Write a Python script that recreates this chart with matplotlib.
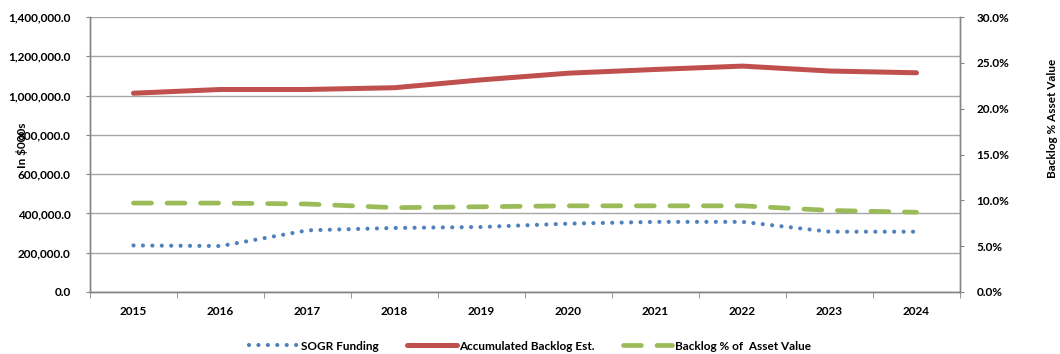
import matplotlib
matplotlib.use("Agg")
import matplotlib.pyplot as plt
from matplotlib.ticker import FuncFormatter, FixedLocator

years = ["2015", "2016", "2017", "2018", "2019", "2020", "2021", "2022", "2023", "2024"]
sogr_funding = [237000, 234000, 314000, 326000, 331000, 348000, 357000, 357000, 307000, 307000]
accumulated_backlog = [1012000, 1031000, 1031000, 1040000, 1080000, 1114000, 1133000, 1150000, 1125000, 1116000]
backlog_pct = [9.7, 9.7, 9.6, 9.2, 9.3, 9.4, 9.4, 9.4, 8.9, 8.7]

BLUE = "#4F81BD"
RED = "#C0504D"
GREEN = "#9BBB59"
GRID = "#A6A6A6"
AXIS = "#868686"

plt.rcParams["font.family"] = ["Lato", "DejaVu Sans"]
plt.rcParams["font.weight"] = "bold"

fig = plt.figure(figsize=(10.6, 3.54), dpi=100)
ax = fig.add_axes([90 / 1060, 1 - 292 / 354, 870 / 1060, 275 / 354])
ax2 = ax.twinx()

x = list(range(len(years)))

l1, = ax.plot(x, sogr_funding, color=BLUE, lw=3.0, linestyle=(0, (0.01, 2.25)),
              dash_capstyle="round", solid_capstyle="round", label="SOGR Funding", zorder=3)
l2, = ax.plot(x, accumulated_backlog, color=RED, lw=3.6, solid_capstyle="round",
              label="Accumulated Backlog Est.", zorder=3)
l3, = ax2.plot(x, backlog_pct, color=GREEN, lw=3.4, linestyle=(0, (3.8, 3.3)),
               dash_capstyle="round", label="Backlog % of  Asset Value", zorder=3)

ax.set_xlim(-0.5, len(years) - 0.5)
ax.set_ylim(0, 1400000)
ax2.set_ylim(0, 30)

ax.set_yticks(range(0, 1400001, 200000))
ax.yaxis.set_major_formatter(FuncFormatter(lambda v, p: f"{v:,.1f}"))
ax2.set_yticks([0, 5, 10, 15, 20, 25, 30])
ax2.yaxis.set_major_formatter(FuncFormatter(lambda v, p: f"{v:.1f}%"))

ax.set_xticks(x)
ax.set_xticklabels(years)
ax.xaxis.set_minor_locator(FixedLocator([i - 0.5 for i in range(len(years) + 1)]))
ax.tick_params(axis="x", which="major", length=0, pad=10, labelsize=8.5)
ax.tick_params(axis="x", which="minor", length=4, color=AXIS, direction="out")
ax.tick_params(axis="y", length=3, color=AXIS, pad=11, labelsize=8.5)
ax2.tick_params(axis="y", length=3, color=AXIS, pad=9, labelsize=8.5)

ax.grid(axis="y", color=GRID, lw=1.0)
ax.set_axisbelow(True)

for a in (ax, ax2):
    a.spines["top"].set_visible(False)
    for side in ("left", "right", "bottom"):
        a.spines[side].set_color(AXIS)
        a.spines[side].set_linewidth(1.0)

fig.text(22 / 1060, 1 - 145 / 354, "In $000s", rotation=90, ha="center", va="center",
         fontsize=8.5, fontweight="bold")
fig.text(1052 / 1060, 1 - 118 / 354, "Backlog % Asset Value", rotation=90, ha="center",
         va="center", fontsize=8.5, fontweight="bold")

fig.legend(handles=[l1, l2, l3], loc="center", bbox_to_anchor=(530 / 1060, 1 - 346 / 354),
           ncol=3, frameon=False, fontsize=8.5, handlelength=4.2, handletextpad=0.2,
           columnspacing=2.4)

fig.savefig("out.png", dpi=100)
